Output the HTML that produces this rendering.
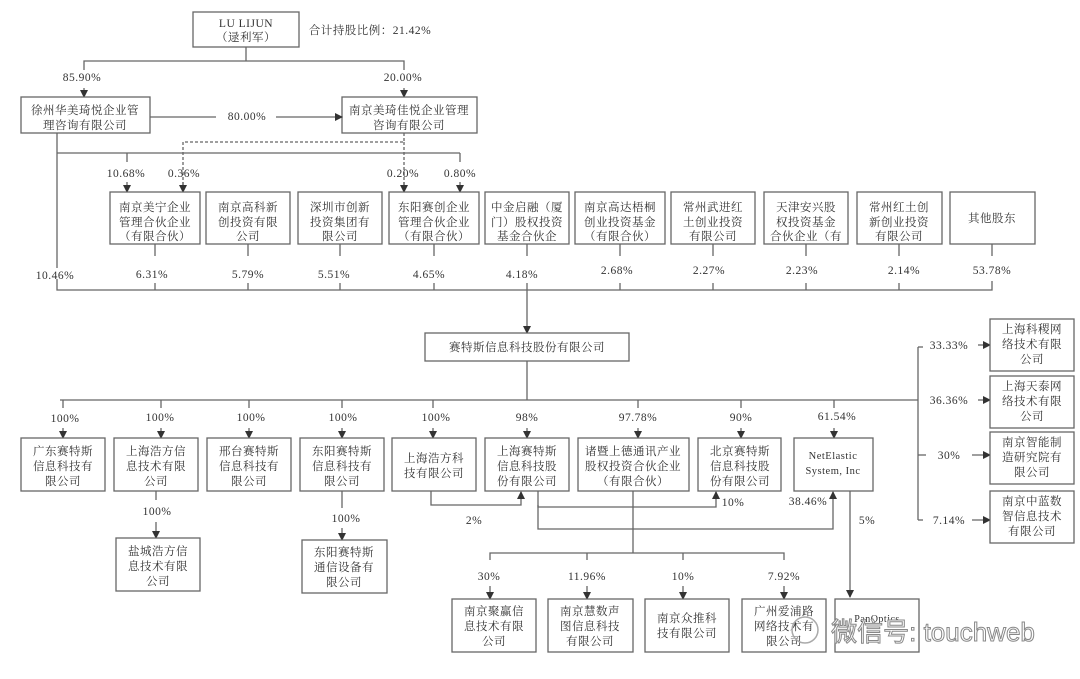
<!DOCTYPE html>
<html><head><meta charset="utf-8"><style>
html,body{margin:0;padding:0;background:#fff}
svg{display:block}
text{font-family:"Liberation Serif","Noto Serif CJK SC","Noto Sans CJK SC",serif;font-size:11.5px;fill:#333;text-anchor:middle;letter-spacing:0.5px}
rect{fill:#fff;stroke:#666;stroke-width:1.3}
line,polyline{stroke:#666;stroke-width:1.3;fill:none}
</style></head><body>
<svg width="1080" height="679" viewBox="0 0 1080 679" xmlns="http://www.w3.org/2000/svg">
<defs><marker id="a" markerWidth="8" markerHeight="8" refX="7" refY="4" orient="auto" markerUnits="userSpaceOnUse"><path d="M0,0 L8,4 L0,8 z" fill="#333"/></marker></defs>

<rect x="193" y="12" width="106" height="35"/>
<text x="246" y="27">LU LIJUN</text><text x="246" y="41">（逯利军）</text>
<text x="370" y="34">合计持股比例：21.42%</text>
<line x1="246" y1="47" x2="246" y2="61"/>
<polyline points="84,70 84,61 404,61 404,70"/>
<text x="82" y="81">85.90%</text><text x="403" y="81">20.00%</text>
<line x1="84" y1="88" x2="84" y2="97" marker-end="url(#a)"/>
<line x1="404" y1="88" x2="404" y2="97" marker-end="url(#a)"/>
<rect x="21" y="97" width="129" height="36"/>
<text x="85" y="114">徐州华美琦悦企业管</text><text x="85" y="129">理咨询有限公司</text>
<rect x="342" y="97" width="135" height="36"/>
<text x="409" y="114">南京美琦佳悦企业管理</text><text x="409" y="129">咨询有限公司</text>
<line x1="150" y1="117" x2="216" y2="117"/><text x="247" y="120">80.00%</text>
<line x1="276" y1="117" x2="342" y2="117" marker-end="url(#a)"/>

<polyline points="183,190 183,142 404,142 404,133" style="stroke-dasharray:3,2"/>
<line x1="404" y1="142" x2="404" y2="190" style="stroke-dasharray:3,2"/>
<line x1="57" y1="133" x2="57" y2="268"/>
<polyline points="57,153 460,153"/>
<line x1="127" y1="153" x2="127" y2="162"/>
<line x1="460" y1="153" x2="460" y2="162"/>
<text x="126" y="177">10.68%</text><text x="184" y="177">0.36%</text><text x="403" y="177">0.20%</text><text x="460" y="177">0.80%</text>
<line x1="127" y1="182" x2="127" y2="192" marker-end="url(#a)"/>
<line x1="183" y1="182" x2="183" y2="192" marker-end="url(#a)"/>
<line x1="404" y1="182" x2="404" y2="192" marker-end="url(#a)"/>
<line x1="460" y1="182" x2="460" y2="192" marker-end="url(#a)"/>

<rect x="110" y="192" width="90" height="52"/><text x="155" y="211">南京美宁企业</text><text x="155" y="226">管理合伙企业</text><text x="155" y="240">（有限合伙）</text>
<rect x="206" y="192" width="84" height="52"/><text x="248" y="211">南京高科新</text><text x="248" y="226">创投资有限</text><text x="248" y="240">公司</text>
<rect x="298" y="192" width="84" height="52"/><text x="340" y="211">深圳市创新</text><text x="340" y="226">投资集团有</text><text x="340" y="240">限公司</text>
<rect x="389" y="192" width="90" height="52"/><text x="434" y="211">东阳赛创企业</text><text x="434" y="226">管理合伙企业</text><text x="434" y="240">（有限合伙）</text>
<rect x="485" y="192" width="84" height="52"/><text x="527" y="211">中金启融（厦</text><text x="527" y="226">门）股权投资</text><text x="527" y="240">基金合伙企</text>
<rect x="575" y="192" width="90" height="52"/><text x="620" y="211">南京高达梧桐</text><text x="620" y="226">创业投资基金</text><text x="620" y="240">（有限合伙）</text>
<rect x="671" y="192" width="84" height="52"/><text x="713" y="211">常州武进红</text><text x="713" y="226">土创业投资</text><text x="713" y="240">有限公司</text>
<rect x="764" y="192" width="84" height="52"/><text x="806" y="211">天津安兴股</text><text x="806" y="226">权投资基金</text><text x="806" y="240">合伙企业（有</text>
<rect x="857" y="192" width="85" height="52"/><text x="899" y="211">常州红土创</text><text x="899" y="226">新创业投资</text><text x="899" y="240">有限公司</text>
<rect x="950" y="192" width="85" height="52"/><text x="992" y="222">其他股东</text>

<g>
<line x1="155" y1="244" x2="155" y2="256"/><line x1="248" y1="244" x2="248" y2="256"/><line x1="340" y1="244" x2="340" y2="256"/><line x1="434" y1="244" x2="434" y2="256"/><line x1="527" y1="244" x2="527" y2="256"/><line x1="620" y1="244" x2="620" y2="256"/><line x1="713" y1="244" x2="713" y2="256"/><line x1="806" y1="244" x2="806" y2="256"/><line x1="899" y1="244" x2="899" y2="256"/><line x1="992" y1="244" x2="992" y2="256"/>
</g>
<text x="55" y="279">10.46%</text><text x="152" y="278">6.31%</text><text x="248" y="278">5.79%</text><text x="334" y="278">5.51%</text><text x="429" y="278">4.65%</text><text x="522" y="278">4.18%</text><text x="617" y="274">2.68%</text><text x="709" y="274">2.27%</text><text x="802" y="274">2.23%</text><text x="904" y="274">2.14%</text><text x="992" y="274">53.78%</text>
<polyline points="57,279 57,290 992,290 992,281"/>
<line x1="155" y1="290" x2="155" y2="283"/><line x1="248" y1="290" x2="248" y2="283"/><line x1="340" y1="290" x2="340" y2="283"/><line x1="434" y1="290" x2="434" y2="283"/><line x1="620" y1="290" x2="620" y2="283"/><line x1="713" y1="290" x2="713" y2="283"/><line x1="806" y1="290" x2="806" y2="283"/><line x1="899" y1="290" x2="899" y2="283"/>
<line x1="527" y1="283" x2="527" y2="333" marker-end="url(#a)"/>

<rect x="425" y="333" width="204" height="28"/><text x="527" y="351">赛特斯信息科技股份有限公司</text>
<line x1="527" y1="361" x2="527" y2="400"/>
<line x1="60" y1="400" x2="918" y2="400"/>
<line x1="918" y1="347" x2="918" y2="520"/>
<line x1="918" y1="347" x2="923" y2="347"/><line x1="918" y1="520" x2="923" y2="520"/>
<line x1="918" y1="455" x2="926" y2="455"/>

<text x="949" y="349">33.33%</text><text x="949" y="404">36.36%</text><text x="949" y="459">30%</text><text x="949" y="524">7.14%</text>
<line x1="978" y1="345" x2="990" y2="345" marker-end="url(#a)"/>
<line x1="978" y1="400" x2="990" y2="400" marker-end="url(#a)"/>
<line x1="972" y1="455" x2="990" y2="455" marker-end="url(#a)"/>
<line x1="972" y1="520" x2="990" y2="520" marker-end="url(#a)"/>
<rect x="990" y="319" width="84" height="52"/><text x="1032" y="333">上海科稷网</text><text x="1032" y="348">络技术有限</text><text x="1032" y="363">公司</text>
<rect x="990" y="376" width="84" height="52"/><text x="1032" y="390">上海天泰网</text><text x="1032" y="405">络技术有限</text><text x="1032" y="420">公司</text>
<rect x="990" y="432" width="84" height="52"/><text x="1032" y="446">南京智能制</text><text x="1032" y="461">造研究院有</text><text x="1032" y="476">限公司</text>
<rect x="990" y="491" width="84" height="52"/><text x="1032" y="505">南京中蓝数</text><text x="1032" y="520">智信息技术</text><text x="1032" y="535">有限公司</text>

<g>
<line x1="63" y1="400" x2="63" y2="408"/><line x1="161" y1="400" x2="161" y2="408"/><line x1="249" y1="400" x2="249" y2="408"/><line x1="342" y1="400" x2="342" y2="408"/><line x1="433" y1="400" x2="433" y2="408"/><line x1="638" y1="400" x2="638" y2="408"/><line x1="741" y1="400" x2="741" y2="408"/><line x1="834" y1="400" x2="834" y2="408"/>
</g>
<text x="65" y="422">100%</text><text x="160" y="421">100%</text><text x="251" y="421">100%</text><text x="343" y="421">100%</text><text x="436" y="421">100%</text><text x="527" y="421">98%</text><text x="638" y="421">97.78%</text><text x="741" y="421">90%</text><text x="837" y="420">61.54%</text>
<line x1="63" y1="428" x2="63" y2="438" marker-end="url(#a)"/>
<line x1="161" y1="428" x2="161" y2="438" marker-end="url(#a)"/>
<line x1="249" y1="428" x2="249" y2="438" marker-end="url(#a)"/>
<line x1="342" y1="428" x2="342" y2="438" marker-end="url(#a)"/>
<line x1="433" y1="428" x2="433" y2="438" marker-end="url(#a)"/>
<line x1="527" y1="428" x2="527" y2="438" marker-end="url(#a)"/>
<line x1="638" y1="428" x2="638" y2="438" marker-end="url(#a)"/>
<line x1="741" y1="428" x2="741" y2="438" marker-end="url(#a)"/>
<line x1="834" y1="428" x2="834" y2="438" marker-end="url(#a)"/>

<rect x="21" y="438" width="84" height="53"/><text x="63" y="455">广东赛特斯</text><text x="63" y="470">信息科技有</text><text x="63" y="485">限公司</text>
<rect x="114" y="438" width="84" height="53"/><text x="156" y="455">上海浩方信</text><text x="156" y="470">息技术有限</text><text x="156" y="485">公司</text>
<rect x="207" y="438" width="84" height="53"/><text x="249" y="455">邢台赛特斯</text><text x="249" y="470">信息科技有</text><text x="249" y="485">限公司</text>
<rect x="300" y="438" width="84" height="53"/><text x="342" y="455">东阳赛特斯</text><text x="342" y="470">信息科技有</text><text x="342" y="485">限公司</text>
<rect x="392" y="438" width="84" height="53"/><text x="434" y="462">上海浩方科</text><text x="434" y="477">技有限公司</text>
<rect x="485" y="438" width="84" height="53"/><text x="527" y="455">上海赛特斯</text><text x="527" y="470">信息科技股</text><text x="527" y="485">份有限公司</text>
<rect x="578" y="438" width="111" height="53"/><text x="633" y="455">诸暨上德通讯产业</text><text x="633" y="470">股权投资合伙企业</text><text x="633" y="485">（有限合伙）</text>
<rect x="698" y="438" width="83" height="53"/><text x="740" y="455">北京赛特斯</text><text x="740" y="470">信息科技股</text><text x="740" y="485">份有限公司</text>
<rect x="794" y="438" width="79" height="53"/><text x="833" y="459" style="font-size:10.5px">NetElastic</text><text x="833" y="474" style="font-size:10.5px">System, Inc</text>

<line x1="156" y1="491" x2="156" y2="500"/><text x="157" y="515">100%</text>
<line x1="156" y1="522" x2="156" y2="538" marker-end="url(#a)"/>
<rect x="116" y="538" width="84" height="53"/><text x="158" y="555">盐城浩方信</text><text x="158" y="570">息技术有限</text><text x="158" y="585">公司</text>
<line x1="342" y1="491" x2="342" y2="508"/><text x="346" y="522">100%</text>
<line x1="342" y1="528" x2="342" y2="540" marker-end="url(#a)"/>
<rect x="302" y="540" width="85" height="53"/><text x="344" y="556">东阳赛特斯</text><text x="344" y="571">通信设备有</text><text x="344" y="586">限公司</text>

<polyline points="431,491 431,505 521,505 521,492" marker-end="url(#a)"/>
<text x="474" y="524">2%</text>
<polyline points="538,491 538,507 716,507 716,492" marker-end="url(#a)"/>
<text x="733" y="506">10%</text>
<polyline points="538,505 538,529 833,529 833,492" marker-end="url(#a)"/>
<text x="808" y="505">38.46%</text>
<line x1="850" y1="491" x2="850" y2="597" marker-end="url(#a)"/>
<text x="867" y="524">5%</text>
<line x1="633" y1="491" x2="633" y2="553"/>
<polyline points="490,560 490,553 784,553 784,560"/>
<line x1="587" y1="553" x2="587" y2="560"/><line x1="683" y1="553" x2="683" y2="560"/>
<text x="489" y="580">30%</text><text x="587" y="580">11.96%</text><text x="683" y="580">10%</text><text x="784" y="580">7.92%</text>
<line x1="490" y1="586" x2="490" y2="599" marker-end="url(#a)"/>
<line x1="587" y1="586" x2="587" y2="599" marker-end="url(#a)"/>
<line x1="683" y1="586" x2="683" y2="599" marker-end="url(#a)"/>
<line x1="784" y1="586" x2="784" y2="599" marker-end="url(#a)"/>

<rect x="452" y="599" width="84" height="53"/><text x="494" y="615">南京聚赢信</text><text x="494" y="630">息技术有限</text><text x="494" y="645">公司</text>
<rect x="548" y="599" width="85" height="53"/><text x="590" y="615">南京慧数声</text><text x="590" y="630">图信息科技</text><text x="590" y="645">有限公司</text>
<rect x="645" y="599" width="84" height="53"/><text x="687" y="622">南京众推科</text><text x="687" y="637">技有限公司</text>
<rect x="742" y="599" width="84" height="53"/><text x="784" y="615">广州爱浦路</text><text x="784" y="630">网络技术有</text><text x="784" y="645">限公司</text>
<rect x="835" y="599" width="84" height="53"/><text x="877" y="622" style="font-size:10px">PanOptics</text>

<circle cx="805" cy="630" r="13" style="fill:none;stroke:#aaa;stroke-width:1.5"/>
<text x="933" y="641" style="font-family:'Liberation Sans','Noto Sans CJK SC',sans-serif;font-size:26px;fill:#fff;stroke:#888;stroke-width:1;letter-spacing:0">微信号: touchweb</text>
</svg>
</body></html>
